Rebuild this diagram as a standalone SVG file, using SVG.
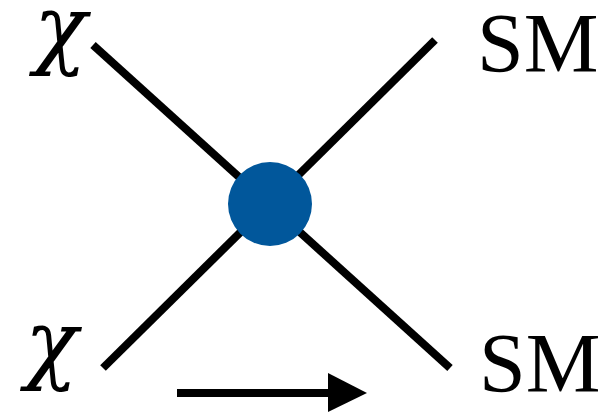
<svg xmlns="http://www.w3.org/2000/svg" width="616" height="412" viewBox="0 0 616 412">
<style>
.leg{stroke:#000;stroke-width:8;fill:none}
.lbl{font-family:"Liberation Serif","Times New Roman",serif;font-size:84px;fill:#000}
.chi{font-family:"DejaVu Serif",serif;font-style:italic;font-size:87px}
</style>
<rect width="616" height="412" fill="#fff"/>
<g id="connectors">
<line class="leg" x1="93" y1="45" x2="450" y2="368"/>
<line class="leg" x1="103" y1="368" x2="435" y2="40"/>
<line x1="177" y1="393" x2="330" y2="393" stroke="#000" stroke-width="8"/>
<polygon points="328,373 367,393 328,412" fill="#000"/>
</g>
<g id="vertex"><circle cx="270" cy="204" r="42" fill="#01579B"/></g>
<g id="chi1"><text class="lbl chi" x="34" y="58">χ</text></g>
<g id="chi2"><text class="lbl chi" x="25" y="373">χ</text></g>
<g id="sm1"><text class="lbl" x="477" y="72">SM</text></g>
<g id="sm2"><text class="lbl" x="479" y="392">SM</text></g>
</svg>
